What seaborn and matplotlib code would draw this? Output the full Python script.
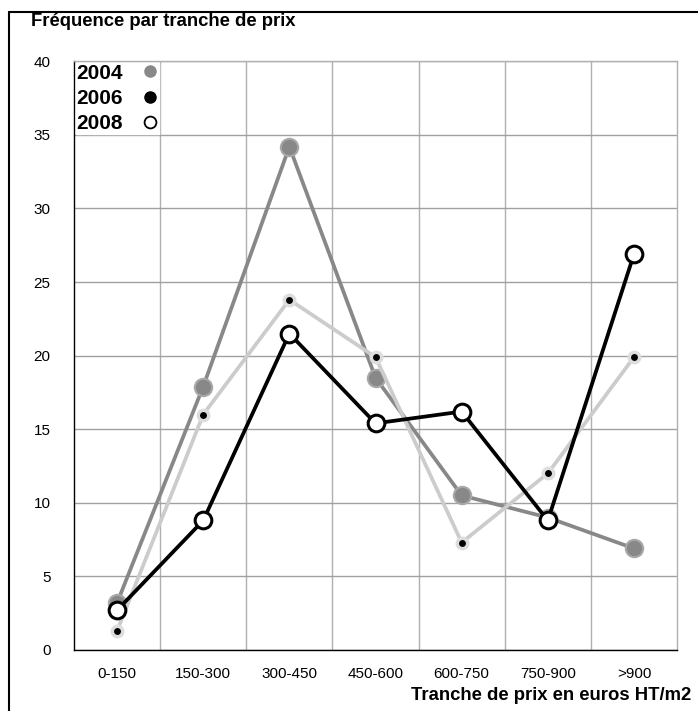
import pandas as pd
import numpy as np
import matplotlib.pyplot as plt
import seaborn as sns
from matplotlib.lines import Line2D

# Values
tranches = ['0-150', '150-300', '300-450', '450-600', '600-750', '750-900', '>900']
freq_2004 = [3.2, 17.9, 34.2, 18.5, 10.5, 9.0, 6.9]
freq_2006 = [1.3, 16.0, 23.8, 19.9, 7.3, 12.0, 19.9]
freq_2008 = [2.7, 8.8, 21.5, 15.4, 16.2, 8.8, 26.9]
yticks = [0, 5, 10, 15, 20, 25, 30, 35, 40]

sns.set_style('white')
plt.rcParams['font.family'] = ['Liberation Sans', 'DejaVu Sans']
plt.rcParams['text.color'] = 'black'
plt.rcParams['xtick.color'] = 'black'
plt.rcParams['ytick.color'] = 'black'

df = pd.DataFrame({'tranche': tranches * 3,
                   'freq': freq_2004 + freq_2006 + freq_2008,
                   'annee': ['2004'] * 7 + ['2006'] * 7 + ['2008'] * 7})
df['pos'] = np.tile(np.arange(len(tranches)), 3)

fig = plt.figure(figsize=(6.98, 7.11), dpi=100)
ax = fig.add_axes([0.106, 0.0858, 0.864, 0.828])

styles = {
 '2004': dict(color='#888888', markerfacecolor='#888888', markeredgecolor='#a8a8a8', markersize=12.5, markeredgewidth=1.5),
 '2006': dict(color='#cccccc', markerfacecolor='black', markeredgecolor='#dddddd', markersize=7.5, markeredgewidth=2.5),
 '2008': dict(color='black', markerfacecolor='white', markeredgecolor='black', markersize=12, markeredgewidth=2.2),
}
for i, (annee, st) in enumerate(styles.items()):
 sub = df[df['annee'] == annee]
 sns.lineplot(data=sub, x='pos', y='freq', ax=ax, marker='o', lw=2.7, zorder=3 + i, **st)

ax.set_xlim(-0.5, len(tranches) - 0.5)
ax.set_ylim(0, 40)
ax.set_xticks(range(len(tranches)))
ax.set_xticklabels(tranches, fontsize=11)
ax.set_yticks(yticks)
ax.set_yticklabels([str(v) for v in yticks], fontsize=11)
ax.set_xticks(np.arange(0.5, len(tranches) - 0.5), minor=True)
ax.tick_params(axis='both', which='both', length=0, labelcolor='black')
ax.tick_params(axis='x', pad=12)
ax.tick_params(axis='y', pad=17)
ax.grid(True, axis='y', which='major', color='#a0a0a0', lw=1)
ax.grid(True, axis='x', which='minor', color='#b0b0b0', lw=1)
ax.grid(False, axis='x', which='major')
ax.set_axisbelow(True)
for s in ['top', 'right']:
 ax.spines[s].set_color('#b0b0b0')
 ax.spines[s].set_linewidth(1)
for s in ['left', 'bottom']:
 ax.spines[s].set_color('black')
 ax.spines[s].set_linewidth(1)
ax.set_xlabel('')
ax.set_ylabel('')

handles = [Line2D([], [], ls='none', marker='o', markersize=8, color='#888888'),
           Line2D([], [], ls='none', marker='o', markersize=8, color='black'),
           Line2D([], [], ls='none', marker='o', markersize=8.5, markerfacecolor='white',
                  markeredgecolor='black', markeredgewidth=1.3)]
leg = ax.legend(handles, ['2004', '2006', '2008'], loc='upper left', markerfirst=False,
                frameon=True, fancybox=False, framealpha=1, edgecolor='white',
                prop={'weight': 'bold', 'size': 15}, handlelength=0.8, handletextpad=0.9,
                labelspacing=0.3, borderpad=0.02, borderaxespad=0.1)
leg.set_zorder(10)

fig.text(31 / 698, 1 - 22 / 711, 'Fréquence par tranche de prix', fontsize=13.3, fontweight='bold',
         ha='left', va='center')
fig.text(691 / 698, 1 - 695 / 711, 'Tranche de prix en euros HT/m2', fontsize=13.3, fontweight='bold',
         ha='right', va='center')

# figure frame (top and left)
fig.add_artist(Line2D([9 / 698, 1], [1 - 12 / 711] * 2, color='black', lw=1.5))
fig.add_artist(Line2D([9 / 698] * 2, [0, 1 - 12 / 711], color='black', lw=1.5))

fig.savefig('out.png', dpi=100)
